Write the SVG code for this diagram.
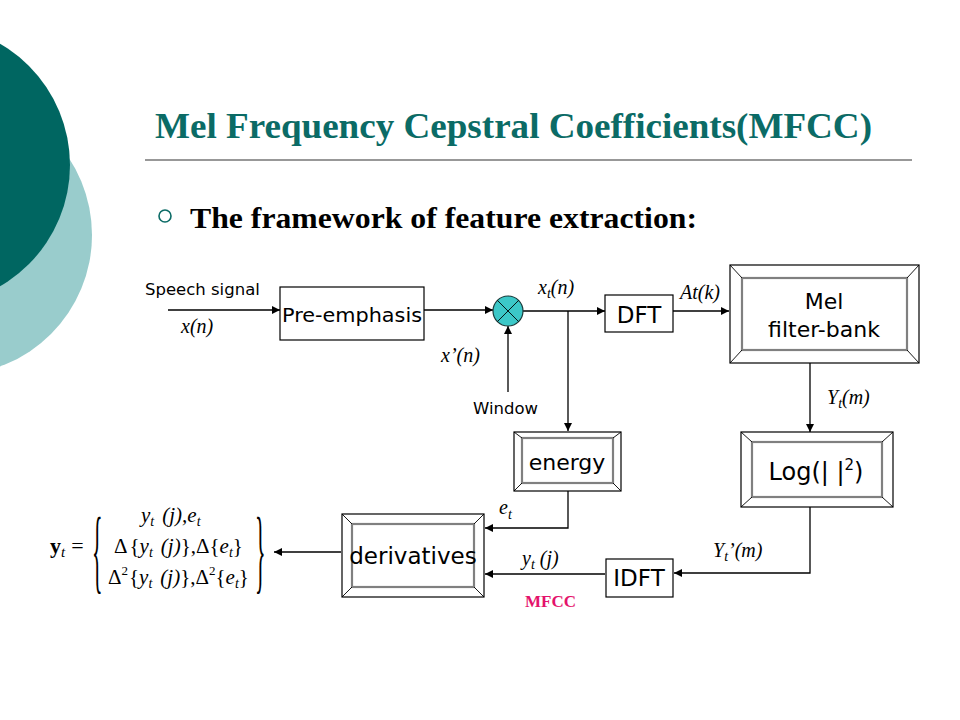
<svg xmlns="http://www.w3.org/2000/svg" width="960" height="720" viewBox="0 0 960 720">
<defs>
<marker id="ah" viewBox="0 0 10 10" refX="10" refY="5" markerWidth="8" markerHeight="8" markerUnits="userSpaceOnUse" orient="auto">
<path d="M0,0 L10,5 L0,10 z" fill="#000"/>
</marker>
<style>
.ln{stroke:#000;stroke-width:1.3;fill:none}
.arr{stroke:#000;stroke-width:1.3;fill:none;marker-end:url(#ah)}
.box{fill:#fff;stroke:#000;stroke-width:1.2}
.inner{fill:#fff;stroke:#808080;stroke-width:2.2}
.diag{stroke:#000;stroke-width:0.9}
.lbl{font-family:"DejaVu Sans","Verdana",sans-serif;fill:#000}
.m{font-family:"Liberation Serif","Times New Roman",serif;font-style:italic;fill:#000}
.up{font-family:"Liberation Serif","Times New Roman",serif;fill:#000}
</style>
</defs>
<rect width="960" height="720" fill="#fff"/>
<g id="background">
<circle cx="-48" cy="235" r="140" fill="#99CCCC"/>
<circle cx="-70" cy="165" r="140" fill="#006661"/>
</g>
<g id="title">
<text x="155" y="138" font-family="Liberation Serif,Times New Roman,serif" font-weight="bold" font-size="36" fill="#0B6B66" textLength="717" lengthAdjust="spacingAndGlyphs">Mel Frequency Cepstral Coefficients(MFCC)</text>
<line x1="145" y1="160" x2="912" y2="160" stroke="#333" stroke-width="1.2"/>
</g>
<g id="bullet">
<circle cx="165" cy="216" r="6" fill="none" stroke="#0B6B66" stroke-width="1.6"/>
<text x="190" y="228" font-family="Liberation Serif,Times New Roman,serif" font-weight="bold" font-size="30" fill="#000" textLength="507" lengthAdjust="spacingAndGlyphs">The framework of feature extraction:</text>
</g>
<g id="connectors">
<line class="arr" x1="168" y1="310" x2="280" y2="310"/>
<line class="arr" x1="424" y1="310" x2="493" y2="310"/>
<line class="arr" x1="508" y1="392" x2="508" y2="326"/>
<line class="arr" x1="523" y1="311" x2="605" y2="311"/>
<line class="arr" x1="568" y1="311" x2="568" y2="431"/>
<line class="arr" x1="673" y1="311" x2="729" y2="311"/>
<line class="arr" x1="810" y1="363" x2="810" y2="432"/>
<polyline class="arr" points="810,507 810,573 674,573"/>
<line class="arr" x1="605" y1="574" x2="485" y2="574"/>
<polyline class="arr" points="568,491 568,528 485,528"/>
<line class="arr" x1="341" y1="552" x2="274" y2="552"/>
</g>
<g id="labels">
<text class="lbl" x="145" y="295" font-size="16.5">Speech signal</text>
<text class="m" x="181" y="333" font-size="20">x(n)</text>
<text class="m" x="441" y="362" font-size="20">x’(n)</text>
<text class="lbl" x="473" y="414" font-size="16.5">Window</text>
<text class="m" x="538" y="294" font-size="20">x<tspan font-size="14" dy="4">t</tspan><tspan dy="-4">(n)</tspan></text>
<text class="m" x="680" y="299" font-size="20">At(k)</text>
<text class="m" x="827" y="404" font-size="20">Y<tspan font-size="14" dy="4">t</tspan><tspan dy="-4">(m)</tspan></text>
<text class="m" x="713" y="557" font-size="20">Y<tspan font-size="14" dy="4">t</tspan><tspan dy="-4">’(m)</tspan></text>
<text class="m" x="522" y="565" font-size="20">y<tspan font-size="14" dy="4">t</tspan><tspan dy="-4"> (j)</tspan></text>
<text class="m" x="499" y="514" font-size="20">e<tspan font-size="14" dy="5">t</tspan></text>
<text x="525" y="607" font-family="Liberation Serif,Times New Roman,serif" font-weight="bold" font-size="17" fill="#E4126B">MFCC</text>
</g>
<g id="pre-emphasis">
<rect class="box" x="280" y="287" width="144" height="53"/>
<text class="lbl" x="282" y="322" font-size="20" textLength="140" lengthAdjust="spacingAndGlyphs">Pre-emphasis</text>
</g>
<g id="multiplier">
<circle cx="508" cy="311" r="15" fill="#3CC8C8" stroke="#1a3a3a" stroke-width="1.2"/>
<line class="diag" x1="497.4" y1="300.4" x2="518.6" y2="321.6"/>
<line class="diag" x1="518.6" y1="300.4" x2="497.4" y2="321.6"/>
</g>
<g id="dft">
<rect class="box" x="605" y="295" width="68" height="37"/>
<text class="lbl" x="639" y="323" font-size="23" text-anchor="middle">DFT</text>
</g>
<g id="mel">
<rect class="box" x="730" y="265" width="189" height="98"/>
<rect class="inner" x="742" y="278" width="165" height="72"/>
<line class="diag" x1="730" y1="265" x2="742" y2="278"/>
<line class="diag" x1="919" y1="265" x2="907" y2="278"/>
<line class="diag" x1="730" y1="363" x2="742" y2="350"/>
<line class="diag" x1="919" y1="363" x2="907" y2="350"/>
<text class="lbl" x="824" y="309" font-size="22" text-anchor="middle">Mel</text>
<text class="lbl" x="824" y="337" font-size="22" text-anchor="middle">filter-bank</text>
</g>
<g id="log">
<rect class="box" x="741" y="432" width="152" height="75"/>
<rect class="inner" x="752" y="442" width="130" height="55"/>
<line class="diag" x1="741" y1="432" x2="752" y2="442"/>
<line class="diag" x1="893" y1="432" x2="882" y2="442"/>
<line class="diag" x1="741" y1="507" x2="752" y2="497"/>
<line class="diag" x1="893" y1="507" x2="882" y2="497"/>
<text class="lbl" x="816" y="480" font-size="24" text-anchor="middle">Log(| |<tspan font-size="15" dy="-10">2</tspan><tspan dy="10">)</tspan></text>
</g>
<g id="energy">
<rect class="box" x="514" y="432" width="107" height="59"/>
<rect class="inner" x="522" y="438" width="91" height="45"/>
<line class="diag" x1="514" y1="432" x2="522" y2="438"/>
<line class="diag" x1="621" y1="432" x2="613" y2="438"/>
<line class="diag" x1="514" y1="491" x2="522" y2="483"/>
<line class="diag" x1="621" y1="491" x2="613" y2="483"/>
<text class="lbl" x="567" y="470" font-size="22" text-anchor="middle">energy</text>
</g>
<g id="idft">
<rect class="box" x="606" y="559" width="67" height="38"/>
<text class="lbl" x="639" y="586" font-size="23" text-anchor="middle">IDFT</text>
</g>
<g id="derivatives">
<rect class="box" x="342" y="514" width="142" height="83"/>
<rect class="inner" x="352" y="524" width="122" height="63"/>
<line class="diag" x1="342" y1="514" x2="352" y2="524"/>
<line class="diag" x1="484" y1="514" x2="474" y2="524"/>
<line class="diag" x1="342" y1="597" x2="352" y2="587"/>
<line class="diag" x1="484" y1="597" x2="474" y2="587"/>
<text class="lbl" x="413" y="564" font-size="23" text-anchor="middle">derivatives</text>
</g>
<g id="equation">
<text class="up" x="50" y="553" font-size="22" font-weight="bold">y<tspan class="m" font-weight="normal" font-size="15" dy="4">t</tspan><tspan font-weight="normal" dx="6" dy="-4">=</tspan></text>
<text class="up" x="0" y="0" font-size="22" transform="translate(92,582) scale(1,4.2)">{</text>
<text class="up" x="0" y="0" font-size="22" transform="translate(255,582) scale(1,4.2)">}</text>
<text class="m" x="141" y="522" font-size="21">y<tspan font-size="14" dy="4">t</tspan><tspan dy="-4" dx="8">(j),e</tspan><tspan font-size="14" dy="4">t</tspan></text>
<text class="up" x="114" y="553" font-size="21">Δ<tspan dx="2">{</tspan><tspan class="m">y</tspan><tspan class="m" font-size="14" dy="4">t</tspan><tspan class="m" dy="-4" dx="8">(j)</tspan>},Δ{<tspan class="m">e</tspan><tspan class="m" font-size="14" dy="4">t</tspan><tspan dy="-4">}</tspan></text>
<text class="up" x="108" y="584" font-size="21">Δ<tspan font-size="13" dy="-9">2</tspan><tspan dy="9" dx="1">{</tspan><tspan class="m">y</tspan><tspan class="m" font-size="14" dy="4">t</tspan><tspan class="m" dy="-4" dx="8">(j)</tspan>},Δ<tspan font-size="13" dy="-9">2</tspan><tspan dy="9">{</tspan><tspan class="m">e</tspan><tspan class="m" font-size="14" dy="4">t</tspan><tspan dy="-4">}</tspan></text>
</g>
</svg>
